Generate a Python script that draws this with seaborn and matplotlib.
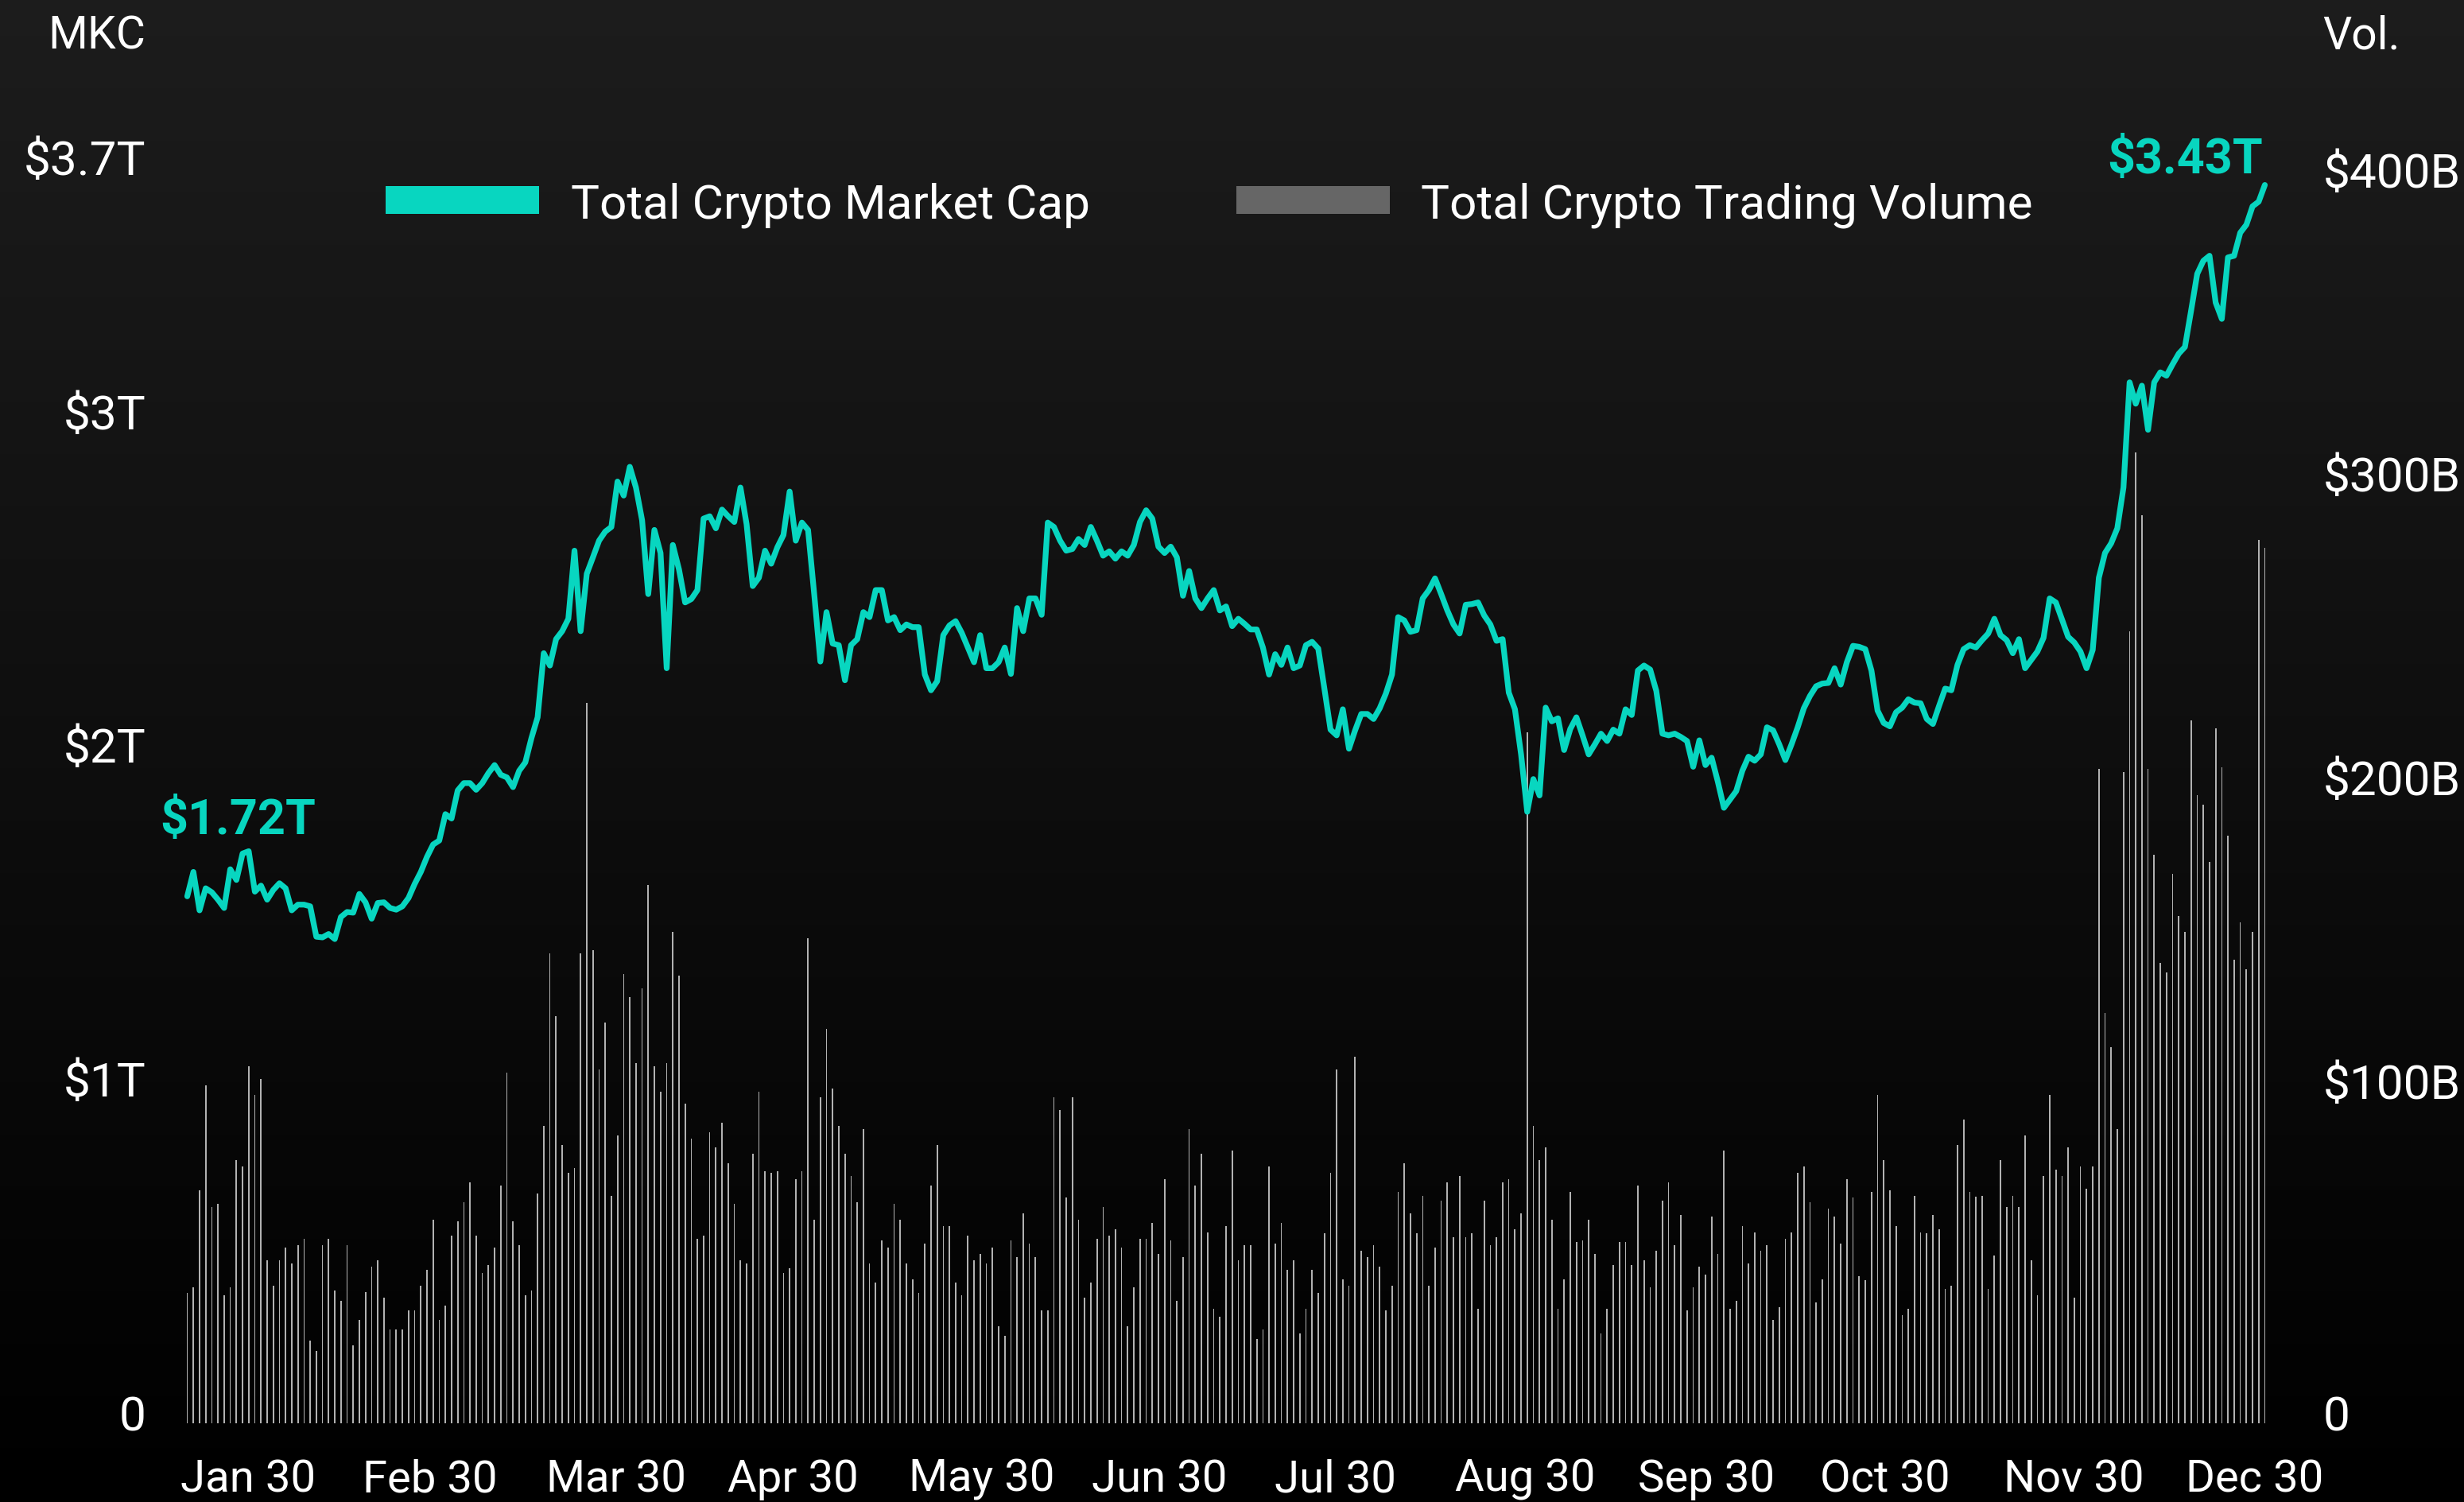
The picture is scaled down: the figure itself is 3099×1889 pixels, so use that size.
import numpy as np
import pandas as pd
import matplotlib
matplotlib.use("Agg")
import matplotlib.pyplot as plt
import matplotlib.transforms as mtransforms
from matplotlib.patches import Patch
import seaborn as sns

# ---------------- data ----------------
market_cap_t = [
    1.578, 1.651, 1.536, 1.602, 1.590, 1.568, 1.543, 1.659, 1.627, 1.706,
    1.713, 1.592, 1.610, 1.568, 1.597, 1.617, 1.602, 1.536, 1.553, 1.553,
    1.548, 1.457, 1.455, 1.465, 1.450, 1.516, 1.531, 1.529, 1.585, 1.560,
    1.511, 1.558, 1.560, 1.543, 1.538, 1.548, 1.573, 1.615, 1.651, 1.696,
    1.733, 1.745, 1.824, 1.811, 1.895, 1.917, 1.917, 1.897, 1.917, 1.947,
    1.971, 1.942, 1.934, 1.905, 1.954, 1.979, 2.052, 2.114, 2.306, 2.269,
    2.348, 2.372, 2.409, 2.613, 2.372, 2.544, 2.593, 2.643, 2.670, 2.684,
    2.820, 2.778, 2.864, 2.802, 2.704, 2.483, 2.675, 2.606, 2.261, 2.630,
    2.557, 2.458, 2.468, 2.495,
    2.709, 2.716, 2.680, 2.736, 2.716, 2.699, 2.802, 2.692, 2.507, 2.532,
    2.613, 2.574, 2.623, 2.660, 2.790, 2.643, 2.697, 2.675, 2.483, 2.281,
    2.429, 2.335, 2.330, 2.225, 2.330, 2.348, 2.429, 2.414, 2.495, 2.495,
    2.404, 2.414, 2.375, 2.392, 2.384, 2.384, 2.242, 2.195, 2.222, 2.360,
    2.389, 2.402, 2.367, 2.323, 2.279, 2.360, 2.261, 2.261, 2.279, 2.323,
    2.244, 2.441, 2.372, 2.470, 2.470, 2.421, 2.697, 2.684, 2.643, 2.613,
    2.618, 2.648, 2.630, 2.684, 2.643, 2.598, 2.611, 2.589, 2.611, 2.598,
    2.630, 2.699, 2.734, 2.709, 2.625, 2.606, 2.625, 2.593, 2.478, 2.552,
    2.470, 2.441, 2.470, 2.495, 2.434,
    2.446, 2.387, 2.409, 2.394, 2.377, 2.377, 2.323, 2.242, 2.303, 2.271,
    2.323, 2.261, 2.269, 2.330, 2.340, 2.320, 2.200, 2.077, 2.060, 2.138,
    2.020, 2.075, 2.124, 2.124, 2.109, 2.141, 2.185, 2.242, 2.414, 2.404,
    2.370, 2.375, 2.470, 2.495, 2.530, 2.483, 2.434, 2.392, 2.365, 2.451,
    2.453, 2.458, 2.419, 2.392, 2.343, 2.348, 2.188, 2.138, 2.003, 1.831,
    1.929, 1.880, 2.143, 2.102, 2.111, 2.016, 2.079, 2.114, 2.060, 2.003,
    2.033, 2.065, 2.043, 2.077, 2.065, 2.138, 2.121, 2.254, 2.269, 2.257,
    2.193, 2.065, 2.060, 2.065, 2.055, 2.043, 1.966, 2.045, 1.971, 1.993,
    1.922, 1.843, 1.868, 1.893, 1.954,
    1.996, 1.984, 2.003, 2.084, 2.075, 2.033, 1.986, 2.033, 2.084, 2.141,
    2.178, 2.207, 2.215, 2.217, 2.261, 2.212, 2.279, 2.328, 2.325, 2.318,
    2.254, 2.134, 2.097, 2.087, 2.129, 2.143, 2.168, 2.158, 2.156, 2.109,
    2.094, 2.148, 2.200, 2.195, 2.271, 2.318, 2.330, 2.323, 2.345, 2.365,
    2.409, 2.360, 2.345, 2.306, 2.348, 2.261, 2.286, 2.311, 2.352, 2.470,
    2.458, 2.407, 2.355, 2.338, 2.311, 2.261, 2.316, 2.532, 2.606, 2.635,
    2.680, 2.802, 3.117, 3.053, 3.107, 2.975, 3.117, 3.147, 3.137, 3.171,
    3.203, 3.223, 3.331, 3.442, 3.481, 3.496, 3.356, 3.307, 3.491, 3.496,
    3.565, 3.589, 3.644, 3.658, 3.708,
]

volume_b = [
    41.7, 43.5, 74.5, 108, 69, 70, 41, 43.5, 84, 82,
    114, 105, 110, 52, 44, 52, 56, 51, 57, 59,
    26.5, 23, 57, 59, 42.5, 39, 57, 25, 33, 42,
    50, 52, 40, 30, 30, 30, 36, 36, 44, 49,
    65, 33, 37.5, 60, 64.5, 70.5, 77, 60, 48, 50.6,
    56, 76, 112, 64.5, 57, 41, 42.5, 73.5, 95, 150,
    130, 89, 80, 81.6, 150, 230, 151, 113, 128, 72.7,
    92, 143.5, 136, 115, 139, 172, 114, 106, 115, 157,
    143, 102, 91, 59,
    60, 93, 88, 96, 83, 70, 52, 51, 86, 106,
    80.5, 80, 80.5, 48, 49.6, 78, 80.5, 155, 65, 104,
    126, 107, 95, 86, 79, 70.6, 94, 51, 45, 58.5,
    56, 70, 65, 51, 46, 41.7, 57.5, 76, 89, 63,
    63, 45, 41, 60, 52, 54, 51, 56, 31, 28,
    58.5, 53, 67, 57.5, 53, 36, 36, 104, 100, 72,
    104, 65, 40, 45, 59, 69, 60, 62, 56, 31,
    43.5, 59, 59, 64, 54, 78, 58.5, 39, 53, 94,
    76, 86, 61, 36.5, 34,
    63, 87, 52, 57, 57, 27, 30, 82, 57.5, 64,
    49, 52, 28.6, 36.5, 49, 41.7, 60.6, 80, 113, 46,
    44, 117, 55, 53, 57, 50, 36, 44, 74, 83,
    67, 60.6, 72.7, 44, 56, 71, 77, 59.5, 79, 59.5,
    60.6, 36.5, 71, 57, 59.5, 77, 78, 62, 67, 220.6,
    95, 84, 88, 65, 36.5, 46, 74, 58, 58.5, 65,
    54, 28.6, 36.5, 50.6, 58, 58, 50.6, 76, 52, 43.5,
    55, 71, 77, 57, 66.6, 36, 43.5, 50, 47.5, 66,
    54, 87, 36.5, 39, 63,
    51, 61, 55, 57, 33, 37, 59, 61, 80, 82,
    70.6, 38.6, 46, 68.5, 66, 57.5, 78, 72, 47, 45.6,
    74, 105, 84, 74.5, 63, 34.6, 36.5, 72.7, 61, 60.6,
    66.6, 62, 43, 44, 89, 97, 74, 72.4, 72.7, 43,
    53.5, 84, 69, 72.7, 69, 92, 52, 41, 79, 105,
    81, 79, 88, 40, 82, 75, 82, 209, 131, 120,
    94, 208, 253, 310, 290, 209, 181.5, 147, 144, 175.5,
    162, 157, 224.5, 200.7, 197.5, 179.4, 222, 209.6, 187.6, 148,
    160, 145, 157, 282, 279.6,
]

month_labels = ["Jan 30", "Feb 30", "Mar 30", "Apr 30", "May 30", "Jun 30",
                "Jul 30", "Aug 30", "Sep 30", "Oct 30", "Nov 30", "Dec 30"]
month_tick_pos = [9.96, 39.5, 69.8, 98.6, 129.3, 158.1, 186.8, 217.7, 247.1,
                  276.2, 306.9, 336.3]

mc_ticks = [0, 1, 2, 3, 3.7]
mc_tick_labels = ["0", "$1T", "$2T", "$3T", "$3.7T"]
vol_ticks = [0, 100, 200, 300, 400]
vol_tick_labels = ["0", "$100B", "$200B", "$300B", "$400B"]

series_names = ["Total Crypto Market Cap", "Total Crypto Trading Volume"]
start_label = "$1.72T"
end_label = "$3.43T"
left_axis_title = "MKC"
right_axis_title = "Vol."

# ---------------- style ----------------
TEAL = "#08d6c0"
BAR_GREY = "#b2b2b2"
LEGEND_GREY = "#666666"
FS_LEG = 43.5
FS_X = 40.5
FS_Y = 43.5
FS_TITLE = 41

sns.set_theme(style="white")
plt.rcParams["font.family"] = ["Roboto", "DejaVu Sans"]
plt.rcParams["text.color"] = "white"

W, H, DPI = 3099, 1890, 100
fig = plt.figure(figsize=(W / DPI, H / DPI), dpi=DPI, facecolor="black")

# dark vertical gradient background
bg = fig.add_axes([0, 0, 1, 1], zorder=-10)
grad = np.linspace(0.112, 0.0, 512)[:, None]
bg.imshow(grad, aspect="auto", cmap="gray", vmin=0, vmax=1,
          extent=[0, 1, 0, 1], origin="upper", interpolation="bilinear")
bg.axis("off")

# plot area in pixels
L_PX, R_PX, B_PX, T_PX = 200, 2880, 1791, 100
ax = fig.add_axes([L_PX / W, 1 - B_PX / H, (R_PX - L_PX) / W, (B_PX - T_PX) / H])
ax2 = ax.twinx()

n = len(market_cap_t)
df = pd.DataFrame({"idx": np.arange(n), "mc": market_cap_t, "vol": volume_b})

sns.barplot(data=df, x="idx", y="vol", native_scale=True, width=0.22,
            color=BAR_GREY, saturation=1, errorbar=None, linewidth=0, ax=ax2)
sns.lineplot(data=df, x="idx", y="mc", color=TEAL, linewidth=5.2, ax=ax,
             solid_joinstyle="round")

ax.set_zorder(2)
ax2.set_zorder(1)
ax.patch.set_visible(False)
ax2.patch.set_visible(False)

# x mapping: first point at 235.5 px, last at 2848.5 px
px_per = (2848.5 - 235.5) / (n - 1)
ax.set_xlim(-(235.5 - L_PX) / px_per, (n - 1) + (R_PX - 2848.5) / px_per)
ax.set_ylim(0, (B_PX - T_PX) / 420.0)
ax2.set_ylim(0, (B_PX - T_PX) / 3.938)

ax.set_xticks(month_tick_pos, month_labels)
ax.set_yticks(mc_ticks, mc_tick_labels)
ax2.set_yticks(vol_ticks, vol_tick_labels)

for a in (ax, ax2):
    a.set_xlabel("")
    a.set_ylabel("")
    a.grid(False)
    for s in a.spines.values():
        s.set_visible(False)

ax.tick_params(axis="x", length=0, pad=31, labelsize=FS_X, colors="white")
ax.tick_params(axis="y", length=0, pad=12, labelsize=FS_Y, colors="white")
ax2.tick_params(axis="y", length=0, pad=30, labelsize=FS_Y, colors="white")

# tick labels sit slightly above their tick lines, as in the reference
left_lift_px = [14, 14, 14, 14, 40]
right_lift_px = [14, 38, 26, 14, 2]
for lab, dy in zip(ax.get_yticklabels(), left_lift_px):
    lab.set_transform(lab.get_transform() +
                      mtransforms.ScaledTranslation(0, dy / DPI, fig.dpi_scale_trans))
for lab, dy in zip(ax2.get_yticklabels(), right_lift_px):
    lab.set_transform(lab.get_transform() +
                      mtransforms.ScaledTranslation(0, dy / DPI, fig.dpi_scale_trans))

# axis titles
fig.text(183 / W, 1 - 46 / H, left_axis_title, ha="right", va="center",
         fontsize=FS_TITLE, color="white")
fig.text(2921 / W, 1 - 46 / H, right_axis_title, ha="left", va="center",
         fontsize=FS_TITLE, color="white")

# start / end value annotations
ax.annotate(start_label, xy=(0, market_cap_t[0]), xytext=(64, 96),
            textcoords="offset pixels", ha="center", va="center",
            fontsize=44, fontweight="bold", color=TEAL)
ax.annotate(end_label, xy=(n - 1, market_cap_t[-1]), xytext=(-100, 33),
            textcoords="offset pixels", ha="center", va="center",
            fontsize=44, fontweight="bold", color=TEAL)

# legend
handles = [Patch(facecolor=TEAL, edgecolor="none", label=series_names[0]),
           Patch(facecolor=LEGEND_GREY, edgecolor="none", label=series_names[1])]
fig.legend(handles=handles, loc="center left", bbox_to_anchor=(485 / W, 1 - 258 / H),
           ncol=2, frameon=False, fontsize=FS_LEG, handlelength=3.2, handleheight=0.51,
           handletextpad=0.65, columnspacing=3.05, borderpad=0, borderaxespad=0,
           labelcolor="white")

fig.savefig("out.png", dpi=DPI, facecolor="black")
